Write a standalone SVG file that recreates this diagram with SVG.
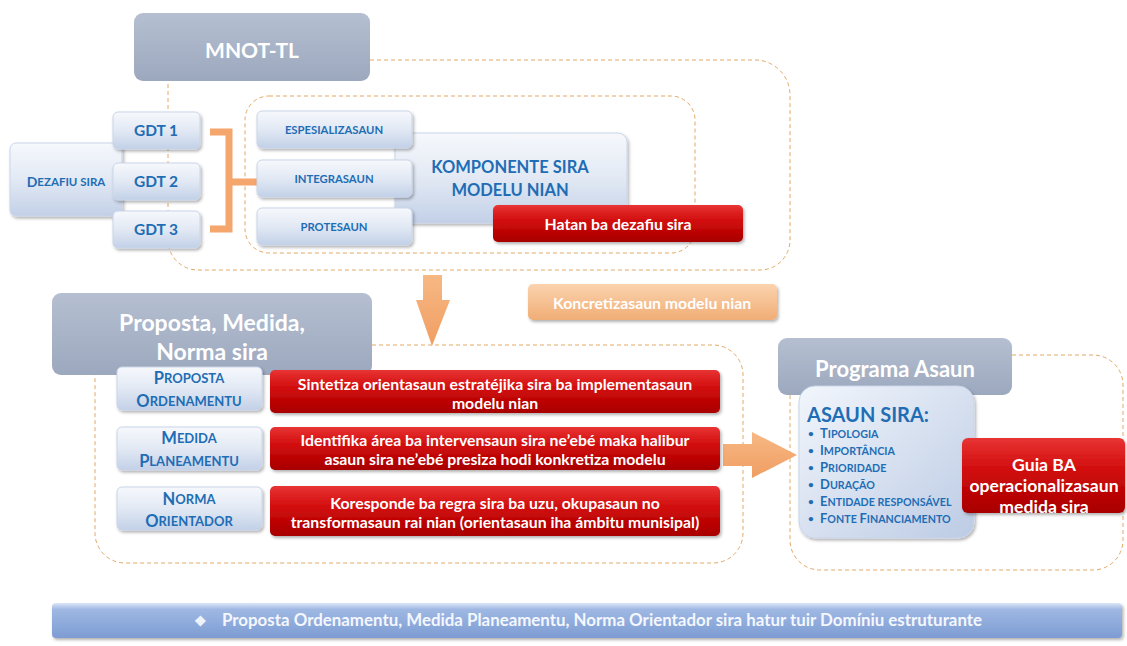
<svg xmlns="http://www.w3.org/2000/svg" width="1127" height="646" viewBox="0 0 1127 646">
<defs>
<linearGradient id="gGray" x1="0" y1="0" x2="0" y2="1"><stop offset="0" stop-color="#b5bfd1"/><stop offset="1" stop-color="#9ca8be"/></linearGradient>
<linearGradient id="gBlue" x1="0" y1="0" x2="0" y2="1"><stop offset="0" stop-color="#f6f8fc"/><stop offset="0.5" stop-color="#e2e9f4"/><stop offset="1" stop-color="#c2d0e7"/></linearGradient>
<linearGradient id="gBlue2" x1="0" y1="0" x2="1" y2="1"><stop offset="0" stop-color="#f2f6fc"/><stop offset="1" stop-color="#bccbe4"/></linearGradient>
<linearGradient id="gRed" x1="0" y1="0" x2="0" y2="1"><stop offset="0" stop-color="#e83434"/><stop offset="0.45" stop-color="#d00a0a"/><stop offset="1" stop-color="#a80000"/></linearGradient>
<linearGradient id="gOr" x1="0" y1="0" x2="0" y2="1"><stop offset="0" stop-color="#fbd3ae"/><stop offset="1" stop-color="#f0ad76"/></linearGradient>
<linearGradient id="gArr" x1="0" y1="0" x2="0" y2="1"><stop offset="0" stop-color="#f7b884"/><stop offset="1" stop-color="#f09e62"/></linearGradient>
<linearGradient id="gBar" x1="0" y1="0" x2="0" y2="1"><stop offset="0" stop-color="#dbe6f7"/><stop offset="0.18" stop-color="#9fb8e3"/><stop offset="1" stop-color="#7d9cd3"/></linearGradient>
<filter id="sh" x="-10%" y="-10%" width="130%" height="140%"><feDropShadow dx="1.5" dy="2" stdDeviation="1.5" flood-color="#000" flood-opacity="0.3"/></filter>
</defs>
<style>
text{font-family:Lato,"Open Sans","Liberation Sans",sans-serif;font-weight:bold;text-anchor:middle;dominant-baseline:central}
.hdr{fill:url(#gGray)}
.hdrt{fill:#ffffff}
.bb{fill:url(#gBlue);stroke:#c9d5e9;stroke-width:1;filter:url(#sh)}
.bt{fill:#1f6db5}
.rb{fill:url(#gRed);filter:url(#sh)}
.rt{fill:#ffffff;font-size:15.8px}
.gt{fill:#ffffff;font-size:17.6px}
.dash{fill:none;stroke:#e3a867;stroke-width:1;stroke-dasharray:4 3}
.arr{fill:url(#gArr)}
.st{text-anchor:start}
</style>

<g id="connectors">
<path class="dash" d="M370,60 H755 A35,35 0 0 1 790,95 V240 A30,30 0 0 1 760,270 H198 A30,30 0 0 1 168,240 V81"/>
<rect class="dash" x="245" y="96" width="450" height="157" rx="24"/>
<path class="dash" d="M372,345 H713 A30,30 0 0 1 743,375 V533 A30,30 0 0 1 713,563 H125 A30,30 0 0 1 95,533 V375"/>
<path class="dash" d="M1012,355 H1093 A30,30 0 0 1 1123,385 V540 A30,30 0 0 1 1093,570 H820 A30,30 0 0 1 790,540 V395"/>
<path d="M210,132 H229 V229 H210 M229,182 H285" fill="none" stroke="#f4a66c" stroke-width="7"/>
<polygon class="arr" points="423,275 442,275 442,300 450,300 432,346 416,300 423,300"/>
<polygon class="arr" points="723,444 752,444 752,432 797,455 752,478 752,466 723,466"/>
</g>

<g id="mnot">
<rect class="hdr" x="134" y="13" width="236" height="68" rx="9"/>
<text class="hdrt" x="252" y="49" font-size="21">MNOT-TL</text>
</g>

<g id="dezafiu">
<rect class="bb" x="10" y="143" width="112" height="73" rx="6"/>
<text class="bt" x="66" y="181" font-size="11.5"><tspan font-size="14">D</tspan>EZAFIU SIRA</text>
</g>

<g id="gdt1"><rect class="bb" x="113" y="112" width="87" height="37" rx="5"/><text class="bt" x="156" y="130" font-size="15.5">GDT 1</text></g>
<g id="gdt2"><rect class="bb" x="113" y="163" width="87" height="37" rx="5"/><text class="bt" x="156" y="181" font-size="15.5">GDT 2</text></g>
<g id="gdt3"><rect class="bb" x="113" y="211" width="87" height="37" rx="5"/><text class="bt" x="156" y="229" font-size="15.5">GDT 3</text></g>

<g id="komponente">
<rect class="bb" x="395" y="133" width="232" height="90" rx="9"/>
<text class="bt" x="510" y="167" font-size="16.5">KOMPONENTE SIRA</text>
<text class="bt" x="510" y="190" font-size="16.5">MODELU NIAN</text>
</g>

<g id="espesializasaun"><rect class="bb" x="257" y="111" width="155" height="37" rx="5"/><text class="bt" x="334" y="129" font-size="11.3">ESPESIALIZASAUN</text></g>
<g id="integrasaun"><rect class="bb" x="257" y="160" width="155" height="37" rx="5"/><text class="bt" x="334" y="178" font-size="11.3">INTEGRASAUN</text></g>
<g id="protesaun"><rect class="bb" x="257" y="208" width="155" height="37" rx="5"/><text class="bt" x="334" y="226" font-size="11.3">PROTESAUN</text></g>

<g id="hatan">
<rect class="rb" x="493" y="205" width="250" height="37" rx="5"/>
<text class="rt" x="618" y="223">Hatan ba dezafiu sira</text>
</g>

<g id="koncretizasaun">
<rect x="528" y="284" width="249" height="36" rx="5" fill="url(#gOr)" filter="url(#sh)"/>
<text x="652" y="302" fill="#ffffff" font-size="15.8">Koncretizasaun modelu nian</text>
</g>

<g id="proposta-hdr">
<rect class="hdr" x="52" y="293" width="320" height="82" rx="9"/>
<text class="hdrt" x="212" y="322" font-size="23">Proposta, Medida,</text>
<text class="hdrt" x="212" y="351" font-size="23">Norma sira</text>
</g>

<g id="proposta-ord">
<rect class="bb" x="117" y="367" width="145" height="43" rx="5"/>
<text class="bt" x="189" y="378" font-size="13"><tspan font-size="16.5">P</tspan>ROPOSTA</text>
<text class="bt" x="189" y="401" font-size="13"><tspan font-size="16.5">O</tspan>RDENAMENTU</text>
</g>
<g id="medida-plan">
<rect class="bb" x="117" y="427" width="145" height="43" rx="5"/>
<text class="bt" x="189" y="438" font-size="13"><tspan font-size="16.5">M</tspan>EDIDA</text>
<text class="bt" x="189" y="461" font-size="13"><tspan font-size="16.5">P</tspan>LANEAMENTU</text>
</g>
<g id="norma-ori">
<rect class="bb" x="117" y="487" width="145" height="43" rx="5"/>
<text class="bt" x="189" y="499" font-size="13"><tspan font-size="16.5">N</tspan>ORMA</text>
<text class="bt" x="189" y="521" font-size="13"><tspan font-size="16.5">O</tspan>RIENTADOR</text>
</g>

<g id="sintetiza">
<rect class="rb" x="270" y="370" width="450" height="43" rx="5"/>
<text class="rt" x="495" y="383">Sintetiza orientasaun estratéjika sira ba implementasaun</text>
<text class="rt" x="495" y="402">modelu nian</text>
</g>
<g id="identifika">
<rect class="rb" x="270" y="427" width="450" height="43" rx="5"/>
<text class="rt" x="495" y="439">Identifika área ba intervensaun sira ne’ebé maka halibur</text>
<text class="rt" x="495" y="458">asaun sira ne’ebé presiza hodi konkretiza modelu</text>
</g>
<g id="koresponde">
<rect class="rb" x="270" y="486" width="450" height="50" rx="5"/>
<text class="rt" x="495" y="502">Koresponde ba regra sira ba uzu, okupasaun no</text>
<text class="rt" x="495" y="521">transformasaun rai nian (orientasaun iha ámbitu munisipal)</text>
</g>

<g id="programa-hdr">
<rect class="hdr" x="778" y="338" width="234" height="57" rx="9"/>
<text class="hdrt" x="895" y="368" font-size="22">Programa Asaun</text>
</g>

<g id="asaun-sira">
<rect x="799" y="386" width="175" height="152" rx="16" fill="url(#gBlue2)" stroke="#c9d5e9" filter="url(#sh)"/>
<text class="bt st" x="807" y="414" font-size="20">ASAUN SIRA:</text>
<text class="bt st" x="808" y="433" font-size="10">•</text><text class="bt st" x="820" y="433" font-size="10.7"><tspan font-size="13">T</tspan>IPOLOGIA</text>
<text class="bt st" x="808" y="450" font-size="10">•</text><text class="bt st" x="820" y="450" font-size="10.7"><tspan font-size="13">I</tspan>MPORTÂNCIA</text>
<text class="bt st" x="808" y="467" font-size="10">•</text><text class="bt st" x="820" y="467" font-size="10.7"><tspan font-size="13">P</tspan>RIORIDADE</text>
<text class="bt st" x="808" y="484" font-size="10">•</text><text class="bt st" x="820" y="484" font-size="10.7"><tspan font-size="13">D</tspan>URAÇÃO</text>
<text class="bt st" x="808" y="501" font-size="10">•</text><text class="bt st" x="820" y="501" font-size="10.7"><tspan font-size="13">E</tspan>NTIDADE RESPONSÁVEL</text>
<text class="bt st" x="808" y="518" font-size="10">•</text><text class="bt st" x="820" y="518" font-size="10.7"><tspan font-size="13">F</tspan>ONTE <tspan font-size="13">F</tspan>INANCIAMENTO</text>
</g>

<g id="guia">
<rect class="rb" x="962" y="438" width="163" height="75" rx="6"/>
<text class="gt" x="1044" y="464">Guia BA</text>
<text class="gt" x="1044" y="485">operacionalizasaun</text>
<text class="gt" x="1044" y="506">medida sira</text>
</g>

<g id="bottom-bar">
<rect x="52" y="603" width="1070" height="35" rx="4" fill="url(#gBar)" filter="url(#sh)"/>
<text x="200" y="620" fill="#eef3fc" font-size="14">❖</text>
<text class="st" x="222" y="620" fill="#f4f7fd" font-size="16.5" textLength="760" lengthAdjust="spacingAndGlyphs">Proposta Ordenamentu, Medida Planeamentu, Norma Orientador sira hatur tuir Domíniu estruturante</text>
</g>
</svg>
